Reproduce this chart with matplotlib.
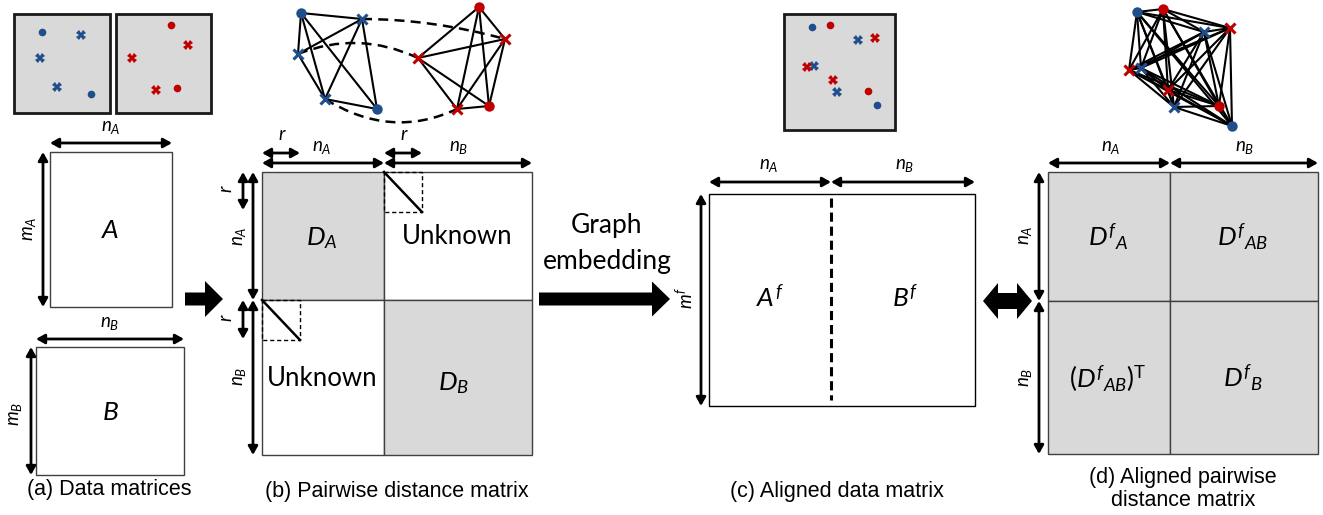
import matplotlib
matplotlib.use("Agg")
import matplotlib.pyplot as plt
from matplotlib.patches import Rectangle, PathPatch, Polygon, FancyArrow
from matplotlib.path import Path
import itertools

plt.rcParams['mathtext.fontset'] = 'custom'
plt.rcParams['mathtext.rm'] = 'Lato'
plt.rcParams['mathtext.it'] = 'Lato:italic'
plt.rcParams['mathtext.bf'] = 'Lato:bold'

BLUE = '#1F4E8C'
RED = '#C00000'
GRAY = '#D9D9D9'

# ---------------- data ----------------
# scatter box A (blue): circles and crosses
boxA_circ = [(42, 32), (91, 94)]
boxA_x = [(81, 35), (40, 58), (57, 87)]
# scatter box B (red)
boxB_circ = [(171, 25), (177, 88)]
boxB_x = [(188, 45), (132, 58), (156, 90)]
# graph (b): node positions
gA_nodes = {'c1': (301, 13), 'x1': (362, 19), 'x2': (298, 54), 'x3': (325, 99), 'c2': (377, 109)}
gA_edges = [('c1', 'x1'), ('c1', 'x2'), ('c1', 'x3'), ('c1', 'c2'), ('x1', 'x2'),
            ('x1', 'x3'), ('x1', 'c2'), ('x2', 'x3'), ('x3', 'c2')]
gB_nodes = {'c1': (479, 7), 'x1': (505, 39), 'x2': (418, 58), 'x3': (457, 109), 'c2': (489, 106)}
gB_edges = [('c1', 'x2'), ('c1', 'x1'), ('c1', 'x3'), ('c1', 'c2'), ('x1', 'x2'),
            ('x1', 'x3'), ('x1', 'c2'), ('x2', 'x3'), ('x2', 'c2'), ('x3', 'c2')]
# dashed correspondences (start, control, end)
corr = [((362, 19), (432, 19), (505, 39)),
        ((298, 54), (358, 30), (418, 58)),
        ((325, 99), (391, 140), (457, 109))]
# aligned scatter box
al_blue_circ = [(812, 27), (877, 105)]
al_red_circ = [(830, 25), (868, 91)]
al_blue_x = [(858, 40), (814, 66), (837, 92)]
al_red_x = [(875, 38), (807, 67), (833, 80)]
# aligned full graph
fg_blue_circ = [(1137, 12), (1232, 126)]
fg_red_circ = [(1163, 9), (1219, 106)]
fg_blue_x = [(1204, 32), (1141, 68), (1174, 107)]
fg_red_x = [(1230, 28), (1129, 70), (1168, 90)]

fig = plt.figure(figsize=(13.23, 5.15), dpi=100)
ax = fig.add_axes([0, 0, 1, 1])
ax.set_xlim(0, 1323)
ax.set_ylim(515, 0)
ax.axis('off')

DIM = 13.5  # dimension label size
BIG = 19


def box(x0, y0, x1, y1, fc='white', ec='#404040', lw=1.0, z=1, ls='-'):
    ax.add_patch(Rectangle((x0, y0), x1 - x0, y1 - y0, fc=fc, ec=ec, lw=lw, zorder=z, ls=ls))


def darrow(p0, p1, lw=2.0):
    ax.annotate('', xy=p1, xytext=p0,
                arrowprops=dict(arrowstyle='<|-|>,head_length=0.5,head_width=0.28', lw=lw,
                                color='black', shrinkA=0, shrinkB=0, mutation_scale=10), zorder=5)


def txt(x, y, s, size=12, rot=0, **kw):
    ax.text(x, y, s, fontsize=size, rotation=rot, ha='center', va='center', family='Lato', **kw)


def cap(x, y, s):
    ax.text(x, y, s, fontsize=15.5, ha='center', va='center', family='Liberation Sans')


def pts(lst, color, marker, ms, mew=0, z=6):
    xs = [p[0] for p in lst]
    ys = [p[1] for p in lst]
    ax.plot(xs, ys, ls='none', marker=marker, ms=ms, color=color, mew=mew, mec=color, zorder=z)


# ---------------- top scatter boxes ----------------
box(14, 14, 110, 113, fc=GRAY, ec='#1a1a1a', lw=2)
box(116, 14, 211, 113, fc=GRAY, ec='#1a1a1a', lw=2)
pts(boxA_circ, BLUE, 'o', 5.5)
pts(boxA_x, BLUE, 'X', 6.5)
pts(boxB_circ, RED, 'o', 5.5)
pts(boxB_x, RED, 'X', 6.5)

box(784, 14, 895, 130, fc=GRAY, ec='#1a1a1a', lw=2)
pts(al_blue_circ, BLUE, 'o', 5.5)
pts(al_red_circ, RED, 'o', 5.5)
pts(al_blue_x, BLUE, 'X', 6.5)
pts(al_red_x, RED, 'X', 6.5)

# ---------------- graphs ----------------
for nodes, edges in ((gA_nodes, gA_edges), (gB_nodes, gB_edges)):
    for a, b in edges:
        ax.plot([nodes[a][0], nodes[b][0]], [nodes[a][1], nodes[b][1]], color='black', lw=1.5, zorder=3,
                solid_capstyle='round')
for p0, c, p1 in corr:
    path = Path([p0, c, p1], [Path.MOVETO, Path.CURVE3, Path.CURVE3])
    ax.add_patch(PathPatch(path, fc='none', ec='black', lw=1.8, ls=(0, (4, 2.5)), zorder=3))
pts([gA_nodes['c1'], gA_nodes['c2']], BLUE, 'o', 7.5)
pts([gA_nodes['x1'], gA_nodes['x2'], gA_nodes['x3']], BLUE, 'x', 7, mew=2.2)
pts([gB_nodes['c1'], gB_nodes['c2']], RED, 'o', 7.5)
pts([gB_nodes['x1'], gB_nodes['x2'], gB_nodes['x3']], RED, 'x', 7, mew=2.2)

all_fg = fg_blue_circ + fg_red_circ + fg_blue_x + fg_red_x
for a, b in itertools.combinations(all_fg, 2):
    ax.plot([a[0], b[0]], [a[1], b[1]], color='black', lw=1.5, zorder=3)
pts(fg_blue_circ, BLUE, 'o', 7.5)
pts(fg_red_circ, RED, 'o', 7.5)
pts(fg_blue_x, BLUE, 'x', 7, mew=2.2)
pts(fg_red_x, RED, 'x', 7, mew=2.2)

# ---------------- (a) data matrices ----------------
box(50, 152, 172, 307)
darrow((50, 143), (172, 143))
txt(111, 127, r'$n_A$', DIM)
darrow((43, 152), (43, 307))
txt(29, 229, r'$m_A$', DIM, rot=90)
txt(110, 230, r'$A$', BIG)

box(36, 347, 184, 475)
darrow((36, 339), (184, 339))
txt(110, 323, r'$n_B$', DIM)
darrow((31, 347), (31, 475))
txt(16, 414, r'$m_B$', DIM, rot=90)
txt(110, 413, r'$B$', BIG)
cap(109, 490, '(a) Data matrices')

ax.add_patch(FancyArrow(185, 299, 38, 0, width=13, head_width=36, head_length=18,
                        length_includes_head=True, color='black', lw=0, zorder=4))

# ---------------- (b) pairwise distance matrix ----------------
L, M, R, T, MY, B = 262, 384, 532, 172, 300, 455
box(L, T, M, MY, fc=GRAY)
box(M, T, R, MY)
box(L, MY, M, B)
box(M, MY, R, B, fc=GRAY)
darrow((L, 163), (M, 163))
darrow((M, 163), (R, 163))
darrow((L, 153), (300, 153))
darrow((M, 153), (422, 153))
txt(282, 135, r'$r$', DIM)
txt(404, 135, r'$r$', DIM)
txt(322, 147, r'$n_A$', DIM)
txt(459, 147, r'$n_B$', DIM)
darrow((253, T), (253, MY))
darrow((253, MY), (253, B))
darrow((243, T), (243, 210))
darrow((243, MY), (243, 339))
txt(227, 189, r'$r$', DIM, rot=90)
txt(227, 318, r'$r$', DIM, rot=90)
txt(239, 236, r'$n_A$', DIM, rot=90)
txt(239, 376, r'$n_B$', DIM, rot=90)
box(M, T, 422, 212, fc='none', ec='black', lw=1.0, ls=(0, (3, 2)), z=4)
ax.plot([M, 422], [T, 212], color='black', lw=1.8, zorder=4)
box(L, MY, 300, 340, fc='none', ec='black', lw=1.0, ls=(0, (3, 2)), z=4)
ax.plot([L, 300], [MY, 340], color='black', lw=1.8, zorder=4)
txt(322, 238, r'$D_A$', BIG)
txt(457, 237, 'Unknown', 18.5)
txt(322, 378, 'Unknown', 18.5)
txt(454, 383, r'$D_B$', BIG)
cap(397, 491, '(b) Pairwise distance matrix')

# graph embedding arrow
txt(607, 225, 'Graph', 19)
txt(607, 261, 'embedding', 19)
ax.add_patch(FancyArrow(539, 299, 131, 0, width=13, head_width=35, head_length=18,
                        length_includes_head=True, color='black', lw=0, zorder=4))

# ---------------- (c) aligned data matrix ----------------
box(709, 194, 975, 406, ec='black')
ax.plot([831, 831], [198, 400], color='black', lw=2.2, ls=(0, (3, 1.6)), zorder=4)
darrow((709, 182), (831, 182))
darrow((831, 182), (975, 182))
txt(769, 166, r'$n_A$', DIM)
txt(905, 166, r'$n_B$', DIM)
darrow((701, 194), (701, 406))
txt(685, 298, r'$m^f$', DIM, rot=90)
txt(770, 298, r'$A^f$', BIG)
txt(905, 298, r'$B^f$', BIG)
cap(837, 491, '(c) Aligned data matrix')

# double-headed block arrow
ax.add_patch(Polygon([(983, 301), (998, 283), (998, 293), (1017, 293), (1017, 283), (1032, 301),
                      (1017, 319), (1017, 309), (998, 309), (998, 319)],
                     closed=True, fc='black', ec='none', zorder=4))

# ---------------- (d) aligned pairwise distance ----------------
L2, M2, R2, T2, MY2, B2 = 1048, 1170, 1318, 172, 301, 454
box(L2, T2, M2, MY2, fc=GRAY)
box(M2, T2, R2, MY2, fc=GRAY)
box(L2, MY2, M2, B2, fc=GRAY)
box(M2, MY2, R2, B2, fc=GRAY)
darrow((L2, 163), (M2, 163))
darrow((M2, 163), (R2, 163))
txt(1111, 147, r'$n_A$', DIM)
txt(1245, 147, r'$n_B$', DIM)
darrow((1039, T2), (1039, MY2))
darrow((1039, MY2), (1039, B2))
txt(1025, 235, r'$n_A$', DIM, rot=90)
txt(1025, 377, r'$n_B$', DIM, rot=90)
txt(1108, 237, r'$D^{f}{}_{A}$', BIG)
txt(1243, 237, r'$D^{f}{}_{AB}$', BIG)
txt(1108, 378, r'$(D^{f}{}_{AB})^{\mathrm{T}}$', BIG)
txt(1243, 378, r'$D^{f}{}_{B}$', BIG)
cap(1183, 477, '(d) Aligned pairwise')
cap(1183, 500, 'distance matrix')

fig.savefig('out.png', dpi=100)
